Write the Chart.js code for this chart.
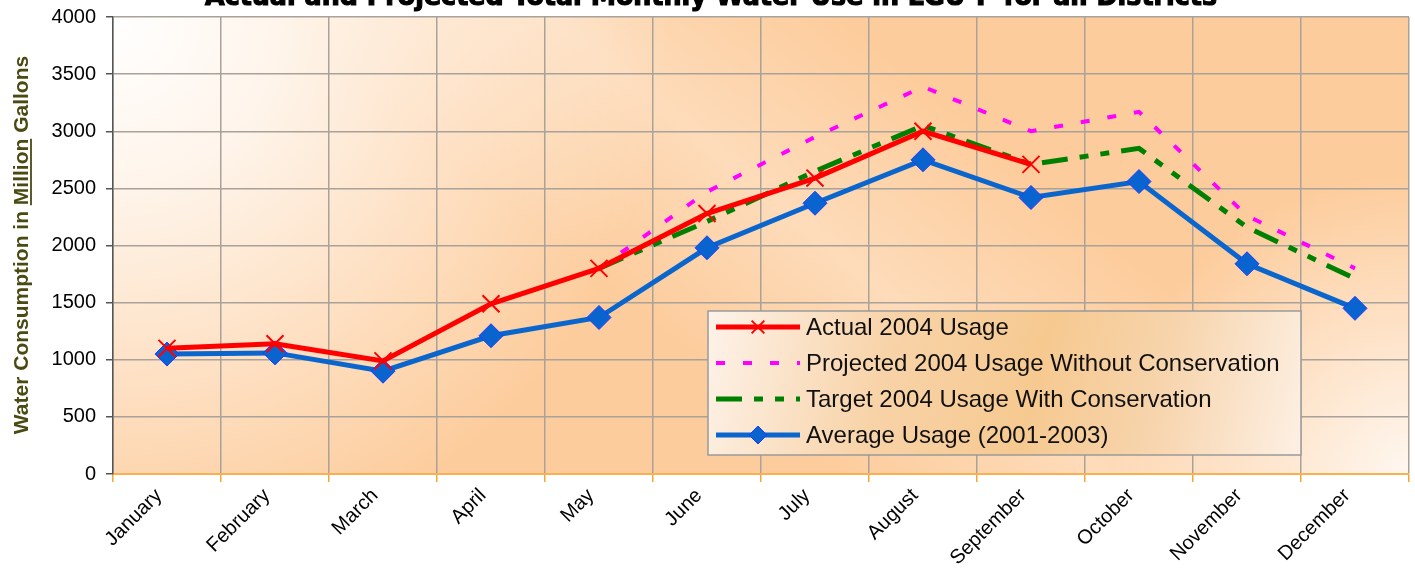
<!DOCTYPE html>
<html>
<head>
<meta charset="utf-8">
<title>Monthly Water Use</title>
<script src="https://cdn.jsdelivr.net/npm/chart.js@4"></script>
<style>
  body { margin: 0; background: #fff; }
  #wrap { width: 1415px; height: 571px; }
</style>
</head>
<body>
<div id="wrap"><canvas id="waterChart" width="1415" height="571"></canvas></div>
<script>
// Chart data
const months = ['January', 'February', 'March', 'April', 'May', 'June', 'July',
    'August', 'September', 'October', 'November', 'December'];
const actual2004 = [1100, 1140, 990, 1490, 1800, 2280, 2590, 3000, 2710, null, null, null];
const projected2004 = [null, null, null, null, 1800, 2470, 2950, 3390, 3000, 3170, 2260, 1800];
const target2004 = [null, null, null, null, 1800, 2210, 2650, 3050, 2710, 2850, 2160, 1710];
const average2001to2003 = [1050, 1060, 900, 1210, 1370, 1980, 2370, 2750, 2420, 2560, 1840, 1450];

const yMin = 0;
const yMax = 4000;
const yStep = 500;

const chartTitle = 'Actual and Projected Total Monthly Water Use in LGU-P for all Districts';
const yTitleParts = ['Water Consumption in ', 'Million', ' Gallons'];

// Plot area background (orange gradient with light patches)
const plotBackground = {
    id: 'plotBackground',
    beforeDraw(chart) {
        const { ctx, chartArea: a } = chart;
        const w = a.right - a.left, h = a.bottom - a.top;
        ctx.save();
        ctx.fillStyle = '#fdcc9c';
        ctx.fillRect(a.left, a.top, w, h);

        // light diagonal band
        const band = ctx.createLinearGradient(a.left, a.bottom, a.left + 700, a.bottom - 840);
        band.addColorStop(0, 'rgba(255,255,255,0)');
        band.addColorStop(0.42, 'rgba(255,255,255,0)');
        band.addColorStop(0.58, 'rgba(255,255,255,0.3)');
        band.addColorStop(0.75, 'rgba(255,255,255,0)');
        band.addColorStop(1, 'rgba(255,255,255,0)');
        ctx.fillStyle = band;
        ctx.fillRect(a.left, a.top, w, h);

        // white top-left corner
        const tl = ctx.createRadialGradient(a.left, a.top, 0, a.left, a.top, 560);
        tl.addColorStop(0, 'rgba(255,255,255,1)');
        tl.addColorStop(0.3, 'rgba(255,255,255,0.8)');
        tl.addColorStop(1, 'rgba(255,255,255,0)');
        ctx.fillStyle = tl;
        ctx.fillRect(a.left, a.top, w, h);

        // light bottom-right corner
        const br = ctx.createRadialGradient(a.right, a.bottom, 0, a.right, a.bottom, 300);
        br.addColorStop(0, 'rgba(255,255,255,0.85)');
        br.addColorStop(1, 'rgba(255,255,255,0)');
        ctx.fillStyle = br;
        ctx.fillRect(a.left, a.top, w, h);
        ctx.restore();
    }
};

// Title (cut off at the top) and y axis title with underlined word
const textPlugin = {
    id: 'textPlugin',
    afterDraw(chart) {
        const { ctx } = chart;
        ctx.save();
        ctx.fillStyle = '#000';
        ctx.strokeStyle = '#000';
        ctx.lineWidth = 1.2;
        ctx.font = 'bold 27px "DejaVu Sans"';
        ctx.textAlign = 'center';
        ctx.textBaseline = 'alphabetic';
        ctx.fillText(chartTitle, 711, 5, 1012);
        ctx.strokeText(chartTitle, 711, 5, 1012);
        ctx.restore();

        ctx.save();
        ctx.font = 'bold 21px "Liberation Sans"';
        ctx.fillStyle = '#4a4a12';
        ctx.strokeStyle = '#4a4a12';
        ctx.textAlign = 'left';
        ctx.textBaseline = 'alphabetic';
        ctx.translate(28, 245);
        ctx.rotate(-Math.PI / 2);
        const widths = yTitleParts.map(p => ctx.measureText(p).width);
        const total = widths.reduce((s, v) => s + v, 0);
        let x = -total / 2;
        yTitleParts.forEach((p, i) => {
            ctx.fillText(p, x, 0);
            if (i === 1) {
                ctx.lineWidth = 1.8;
                ctx.beginPath();
                ctx.moveTo(x, 3);
                ctx.lineTo(x + widths[i], 3);
                ctx.stroke();
            }
            x += widths[i];
        });
        ctx.restore();
    }
};

// Legend box drawn inside the plot area
const boxLegend = {
    id: 'boxLegend',
    afterDraw(chart) {
        const { ctx, chartArea: a } = chart;
        const left = a.left + 595, top = a.top + 294;
        const w = 593, h = 144;
        ctx.save();
        const g = ctx.createLinearGradient(left, top, left + w, top + h);
        g.addColorStop(0, '#fdf3ea');
        g.addColorStop(0.3, '#f8d3a8');
        g.addColorStop(0.55, '#f6c990');
        g.addColorStop(0.75, '#f7d4ac');
        g.addColorStop(1, '#fdf0e4');
        ctx.fillStyle = g;
        ctx.fillRect(left, top, w, h);
        ctx.strokeStyle = '#9a9a9a';
        ctx.lineWidth = 1.5;
        ctx.strokeRect(left, top, w, h);

        ctx.font = '22px "Liberation Sans"';
        const longest = Math.max(...chart.data.datasets.map(d => ctx.measureText(d.label).width));
        const size = Math.min(24, 22 * 490 / longest);
        ctx.font = size + 'px "Liberation Sans"';
        ctx.textBaseline = 'middle';

        chart.data.datasets.forEach((ds, i) => {
            const y = top + 16 + i * 36;
            ctx.save();
            ctx.strokeStyle = ds.borderColor;
            ctx.lineWidth = ds.borderWidth;
            ctx.setLineDash(ds.borderDash || []);
            ctx.beginPath();
            ctx.moveTo(left + 8, y);
            ctx.lineTo(left + 92, y);
            ctx.stroke();
            ctx.setLineDash([]);
            if (ds.pointRadius > 0) {
                ctx.fillStyle = ds.pointBackgroundColor;
                ctx.strokeStyle = ds.pointBorderColor;
                ctx.lineWidth = ds.pointBorderWidth;
                Chart.helpers.drawPoint(ctx, {
                    pointStyle: ds.pointStyle, radius: ds.pointRadius * 0.75,
                    rotation: 0, borderWidth: ds.pointBorderWidth
                }, left + 50, y);
            }
            ctx.restore();
            ctx.fillStyle = '#111';
            ctx.fillText(ds.label, left + 98, y + 1);
        });
        ctx.restore();
    }
};

const ctx = document.getElementById('waterChart').getContext('2d');

const waterChart = new Chart(ctx, {
    type: 'line',
    data: {
        labels: months,
        datasets: [{
            label: 'Actual 2004 Usage',
            data: actual2004,
            borderColor: '#ff0000',
            borderWidth: 5,
            pointStyle: 'crossRot',
            pointRadius: 12,
            pointBorderColor: '#ff0000',
            pointBackgroundColor: '#ff0000',
            pointBorderWidth: 2
        }, {
            label: 'Projected 2004 Usage Without Conservation',
            data: projected2004,
            borderColor: '#ff00ff',
            borderWidth: 4,
            borderDash: [9, 18],
            pointRadius: 0
        }, {
            label: 'Target 2004 Usage With Conservation',
            data: target2004,
            borderColor: '#008000',
            borderWidth: 5,
            borderDash: [26, 12, 9, 12, 9, 12],
            pointRadius: 0
        }, {
            label: 'Average Usage (2001-2003)',
            data: average2001to2003,
            borderColor: '#0a66cc',
            borderWidth: 5,
            pointStyle: 'rectRot',
            pointRadius: 12,
            pointBackgroundColor: '#0a64d0',
            pointBorderColor: '#1e3cff',
            pointBorderWidth: 1
        }]
    },
    options: {
        responsive: false,
        devicePixelRatio: 1,
        animation: false,
        tension: 0,
        spanGaps: false,
        layout: { autoPadding: false, padding: { top: 17, right: 6, left: 0, bottom: 0 } },
        plugins: {
            legend: { display: false },
            title: { display: false },
            tooltip: { enabled: false }
        },
        scales: {
            x: {
                offset: true,
                grid: {
                    offset: true,
                    color: '#a8a29a',
                    lineWidth: 1.5,
                    tickColor: '#f5a530',
                    tickLength: 8
                },
                border: { color: '#f8b050', width: 2 },
                ticks: {
                    color: '#000',
                    font: { family: '"Liberation Sans"', size: 20 },
                    minRotation: 45,
                    maxRotation: 45,
                    labelOffset: -8,
                    padding: 2,
                    autoSkip: false
                },
                afterFit(scale) {
                    scale.height = 97;
                    scale.paddingLeft = 0;
                    scale.paddingRight = 0;
                }
            },
            y: {
                min: yMin,
                max: yMax,
                grid: {
                    color: '#a8a29a',
                    lineWidth: 1.5,
                    tickColor: '#555',
                    tickLength: 7
                },
                border: { color: '#555', width: 1.5 },
                ticks: {
                    stepSize: yStep,
                    color: '#000',
                    font: { family: '"Liberation Sans"', size: 20 },
                    padding: 10,
                    callback: v => String(v)
                },
                afterFit(scale) {
                    scale.width = 113;
                    scale.paddingTop = 0;
                    scale.paddingBottom = 0;
                }
            }
        }
    },
    plugins: [plotBackground, textPlugin, boxLegend]
});
</script>
</body>
</html>
